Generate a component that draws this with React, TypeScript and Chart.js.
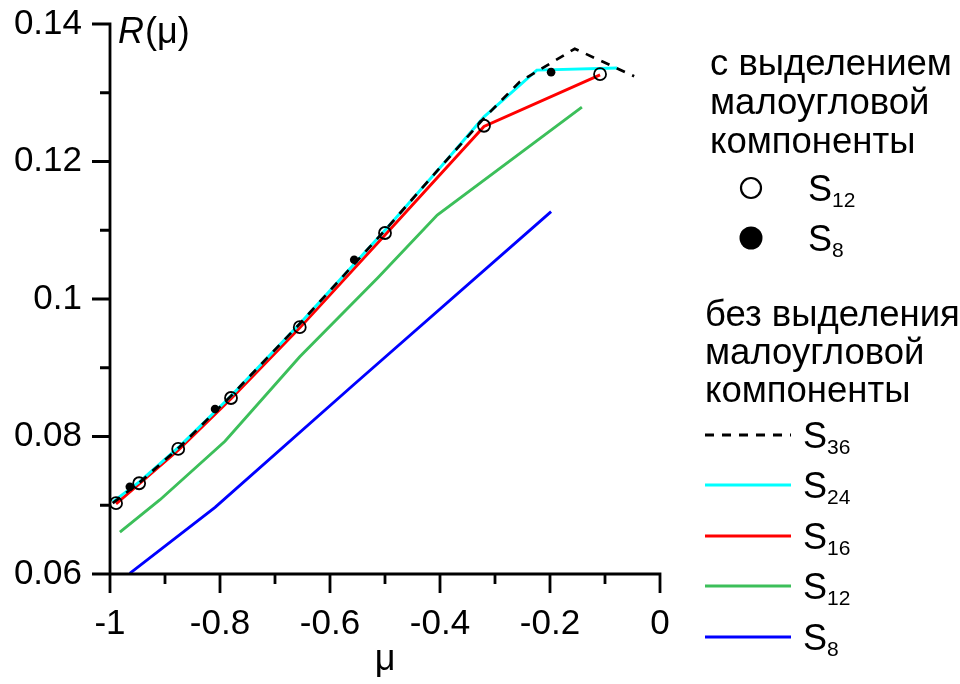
import React, { useEffect, useRef } from 'react';
import { Chart, registerables } from 'chart.js';

Chart.register(...registerables);

// ---- Data ----
// Markers: "с выделением малоугловой компоненты"
const MARK_S12_MU = [-0.989, -0.947, -0.876, -0.78, -0.655, -0.5, -0.32, -0.109];
const MARK_S12_R = [0.0703, 0.0732, 0.0782, 0.0856, 0.0959, 0.1096, 0.1252, 0.1327];
const MARK_S8_MU = [-0.964, -0.809, -0.556, -0.198];
const MARK_S8_R = [0.0727, 0.084, 0.1057, 0.133];

// Lines: "без выделения малоугловой компоненты"
const S36_MU = [-0.995, -0.945, -0.873, -0.78, -0.655, -0.5, -0.4, -0.32, -0.255, -0.155, -0.047];
const S36_R = [0.0703, 0.0734, 0.0785, 0.0859, 0.0964, 0.11, 0.1191, 0.1263, 0.1316, 0.1364, 0.1324];
const S24_MU = [-0.995, -0.945, -0.873, -0.78, -0.655, -0.5, -0.4, -0.32, -0.224, -0.078];
const S24_R = [0.0705, 0.0735, 0.0786, 0.0859, 0.0964, 0.11, 0.1191, 0.1265, 0.1333, 0.1336];
const S16_MU = [-0.989, -0.947, -0.876, -0.78, -0.655, -0.5, -0.32, -0.109];
const S16_R = [0.0702, 0.0731, 0.078, 0.0855, 0.0958, 0.1093, 0.1251, 0.1326];
const S12_MU = [-0.982, -0.909, -0.791, -0.655, -0.513, -0.405, -0.142];
const S12_R = [0.0661, 0.0708, 0.0793, 0.0916, 0.1031, 0.1122, 0.1279];
const S8_MU = [-0.964, -0.809, -0.556, -0.198];
const S8_R = [0.0601, 0.0697, 0.0876, 0.1127];

// Axes
const X_TICKS = [-1, -0.8, -0.6, -0.4, -0.2, 0];
const X_MINOR = [-0.9, -0.7, -0.5, -0.3, -0.1];
const Y_TICKS = [0.06, 0.08, 0.1, 0.12, 0.14];
const Y_MINOR = [0.07, 0.09, 0.11, 0.13];
const X_TITLE = 'μ';
const Y_TITLE_ITALIC = 'R';
const Y_TITLE_REST = '(μ)';

// Legend texts
const LEGEND_HEAD_1 = ['с выделением', 'малоугловой', 'компоненты'];
const LEGEND_HEAD_2 = ['без выделения', 'малоугловой', 'компоненты'];
const MARK_LABELS = [
  { base: 'S', sub: '12' },
  { base: 'S', sub: '8' },
];
const LINE_LABELS = [
  { base: 'S', sub: '36' },
  { base: 'S', sub: '24' },
  { base: 'S', sub: '16' },
  { base: 'S', sub: '12' },
  { base: 'S', sub: '8' },
];

const FONT = '"Liberation Sans", Arial, sans-serif';
const COL_CYAN = '#00ffff';
const COL_RED = '#ff0000';
const COL_GREEN = '#3cbf5a';
const COL_BLUE = '#0000ff';

const zip = (xs: number[], ys: number[]) => xs.map((x, i) => ({ x, y: ys[i] }));

const axesPlugin = {
  id: 'customAxes',
  afterDraw(chart: any) {
    const ctx = chart.ctx as CanvasRenderingContext2D;
    const xs = chart.scales.x;
    const ys = chart.scales.y;
    const xL = xs.getPixelForValue(X_TICKS[0]);
    const xR = xs.getPixelForValue(X_TICKS[X_TICKS.length - 1]);
    const yB = ys.getPixelForValue(Y_TICKS[0]);
    const yT = ys.getPixelForValue(Y_TICKS[Y_TICKS.length - 1]);
    ctx.save();
    ctx.strokeStyle = '#000';
    ctx.lineWidth = 2.8;
    ctx.lineCap = 'butt';
    ctx.beginPath();
    ctx.moveTo(xL, yT - 1.4);
    ctx.lineTo(xL, yB);
    ctx.moveTo(xL, yB);
    ctx.lineTo(xR + 1.4, yB);
    X_TICKS.forEach((v) => {
      const p = xs.getPixelForValue(v);
      ctx.moveTo(p, yB);
      ctx.lineTo(p, yB + 19);
    });
    X_MINOR.forEach((v) => {
      const p = xs.getPixelForValue(v);
      ctx.moveTo(p, yB);
      ctx.lineTo(p, yB + 10);
    });
    Y_TICKS.forEach((v) => {
      const p = ys.getPixelForValue(v);
      ctx.moveTo(xL, p);
      ctx.lineTo(xL - 18, p);
    });
    Y_MINOR.forEach((v) => {
      const p = ys.getPixelForValue(v);
      ctx.moveTo(xL, p);
      ctx.lineTo(xL - 10, p);
    });
    ctx.stroke();

    // y title R(μ)
    ctx.fillStyle = '#000';
    ctx.textBaseline = 'alphabetic';
    ctx.textAlign = 'left';
    ctx.font = `italic 36px ${FONT}`;
    const tx = xL + 8;
    const ty = 43;
    ctx.fillText(Y_TITLE_ITALIC, tx, ty);
    const w = ctx.measureText(Y_TITLE_ITALIC).width;
    ctx.font = `36px ${FONT}`;
    ctx.fillText(Y_TITLE_REST, tx + w + 1, ty);

    // legend
    const drawLabel = (lbl: { base: string; sub: string }, x: number, baseline: number) => {
      ctx.font = `36px ${FONT}`;
      ctx.fillText(lbl.base, x, baseline);
      const bw = ctx.measureText(lbl.base).width;
      ctx.font = `21px ${FONT}`;
      ctx.fillText(lbl.sub, x + bw, baseline + 6);
    };
    ctx.font = `36.5px ${FONT}`;
    const h1 = [75, 114, 153];
    LEGEND_HEAD_1.forEach((t, i) => ctx.fillText(t, 710, h1[i]));
    const h2 = [326, 364, 402];
    LEGEND_HEAD_2.forEach((t, i) => ctx.fillText(t, 705, h2[i]));

    // marker entries
    const markY = [188, 238];
    ctx.lineWidth = 2.2;
    ctx.beginPath();
    ctx.arc(751, markY[0], 10, 0, Math.PI * 2);
    ctx.stroke();
    ctx.beginPath();
    ctx.arc(751, markY[1], 11.5, 0, Math.PI * 2);
    ctx.fill();
    MARK_LABELS.forEach((l, i) => drawLabel(l, 808, markY[i] + 13));

    // line entries
    const lineY = [435, 485, 536, 586, 637];
    const lineCols = ['#000', COL_CYAN, COL_RED, COL_GREEN, COL_BLUE];
    lineY.forEach((y, i) => {
      ctx.save();
      ctx.strokeStyle = lineCols[i];
      ctx.lineWidth = 3;
      if (i === 0) ctx.setLineDash([9, 8]);
      ctx.beginPath();
      ctx.moveTo(705, y);
      ctx.lineTo(791, y);
      ctx.stroke();
      ctx.restore();
      drawLabel(LINE_LABELS[i], 803, y + 13);
    });
    ctx.restore();
  },
};

export default function App() {
  const ref = useRef<HTMLCanvasElement | null>(null);
  useEffect(() => {
    document.body.style.margin = '0';
    const canvas = ref.current!;
    const chart = new Chart(canvas, {
      type: 'line',
      data: {
        datasets: [
          {
            label: 'S12 (с выделением)',
            data: zip(MARK_S12_MU, MARK_S12_R),
            showLine: false,
            pointRadius: 6,
            pointBorderWidth: 1.8,
            pointBorderColor: '#000',
            pointBackgroundColor: 'rgba(0,0,0,0)',
            order: 0,
          },
          {
            label: 'S8 (с выделением)',
            data: zip(MARK_S8_MU, MARK_S8_R),
            showLine: false,
            pointRadius: 4.3,
            pointBorderWidth: 0,
            pointBackgroundColor: '#000',
            pointBorderColor: '#000',
            order: 1,
          },
          {
            label: 'S36',
            data: zip(S36_MU, S36_R),
            borderColor: '#000',
            borderWidth: 2.7,
            borderDash: [9, 8],
            pointRadius: 0,
            order: 2,
          },
          {
            label: 'S24',
            data: zip(S24_MU, S24_R),
            borderColor: COL_CYAN,
            borderWidth: 2.9,
            pointRadius: 0,
            order: 3,
          },
          {
            label: 'S16',
            data: zip(S16_MU, S16_R),
            borderColor: COL_RED,
            borderWidth: 2.9,
            pointRadius: 0,
            order: 4,
          },
          {
            label: 'S12',
            data: zip(S12_MU, S12_R),
            borderColor: COL_GREEN,
            borderWidth: 2.9,
            pointRadius: 0,
            order: 5,
          },
          {
            label: 'S8',
            data: zip(S8_MU, S8_R),
            borderColor: COL_BLUE,
            borderWidth: 2.9,
            pointRadius: 0,
            order: 6,
          },
        ],
      },
      options: {
        responsive: false,
        animation: false,
        devicePixelRatio: 1,
        layout: { padding: { top: 24, right: 300, left: 0, bottom: 0 } },
        plugins: { legend: { display: false }, tooltip: { enabled: false }, title: { display: false } },
        elements: { line: { tension: 0, fill: false } },
        scales: {
          x: {
            type: 'linear',
            min: -1,
            max: 0,
            afterFit: (s: any) => {
              s.height = 110;
            },
            afterBuildTicks: (s: any) => {
              s.ticks = X_TICKS.map((v) => ({ value: v }));
            },
            border: { display: false },
            grid: {
              display: true,
              drawOnChartArea: false,
              drawTicks: true,
              tickLength: 19,
              tickColor: 'rgba(0,0,0,0)',
            },
            ticks: {
              color: '#000',
              padding: 10,
              maxRotation: 0,
              autoSkip: false,
              font: { family: FONT, size: 35 },
              callback: (v: any) => String(v),
            },
            title: {
              display: true,
              text: X_TITLE,
              color: '#000',
              font: { family: FONT, size: 36, lineHeight: 1 },
              padding: { top: 0, bottom: 5.5 },
            },
          },
          y: {
            type: 'linear',
            min: 0.06,
            max: 0.14,
            afterFit: (s: any) => {
              s.width = 110;
            },
            afterBuildTicks: (s: any) => {
              s.ticks = Y_TICKS.map((v) => ({ value: v }));
            },
            border: { display: false },
            grid: {
              display: true,
              drawOnChartArea: false,
              drawTicks: true,
              tickLength: 18,
              tickColor: 'rgba(0,0,0,0)',
            },
            ticks: {
              color: '#000',
              padding: 10,
              autoSkip: false,
              font: { family: FONT, size: 35, lineHeight: 0.7 },
              callback: (v: any) => String(v),
            },
          },
        },
      },
      plugins: [axesPlugin],
    } as any);
    return () => chart.destroy();
  }, []);
  return (
    <div style={{ position: 'relative', width: 960, height: 684 }}>
      <canvas ref={ref} width={960} height={684} style={{ display: 'block' }} />
    </div>
  );
}
